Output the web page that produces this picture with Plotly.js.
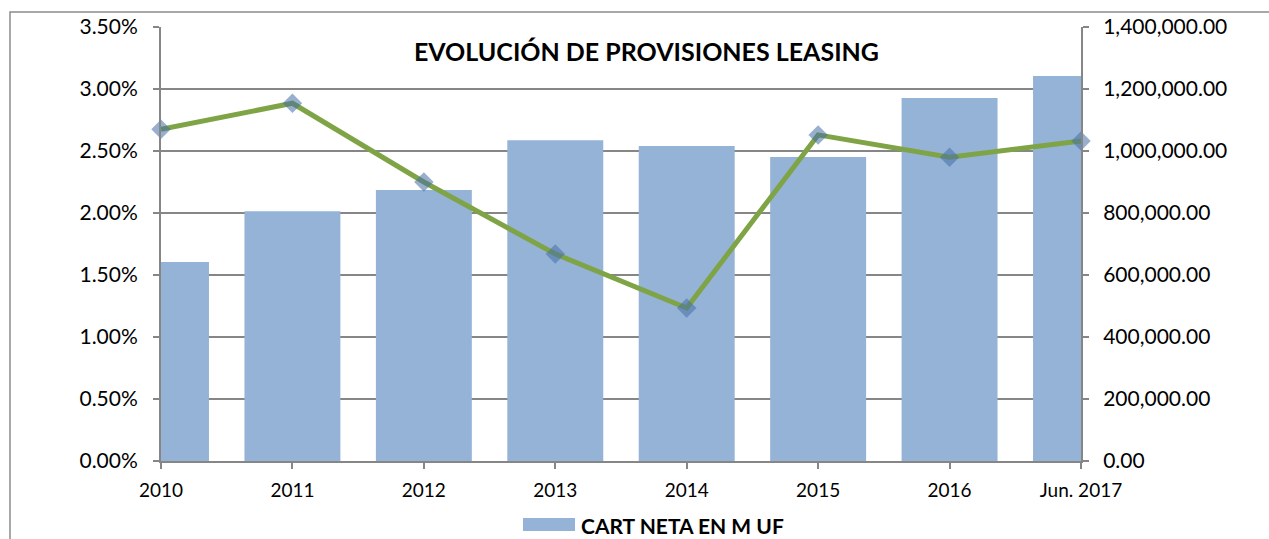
<!DOCTYPE html>
<html>
<head>
<meta charset="utf-8">
<script src="https://cdn.plot.ly/plotly-3.0.1.min.js"></script>
<style>html,body{margin:0;padding:0;background:#fff;}#chart{width:1269px;height:539px;}</style>
</head>
<body>
<div id="chart"></div>
<script>
const categories = ["2010","2011","2012","2013","2014","2015","2016","Jun. 2017"];
const cartNeta = [642000, 806000, 874000, 1035000, 1016000, 981000, 1171000, 1242000];
const provisiones = [0.02675, 0.02885, 0.0225, 0.0167, 0.01234, 0.0263, 0.0245, 0.0258];
const leftTicks = [0, 0.005, 0.01, 0.015, 0.02, 0.025, 0.03, 0.035];
const rightTicks = [0, 200000, 400000, 600000, 800000, 1000000, 1200000, 1400000];
const titleText = "EVOLUCIÓN DE PROVISIONES LEASING";
const legendText = "CART NETA EN M UF";

const gridCol = "#868686";
const L = 161, R = 1081, T = 27, B = 461;
const W = R - L, H = B - T;
const px = x => (x - L) / W;
const py = y => (B - y) / H;

const traces = [
  {
    type: "bar", x: categories, y: cartNeta, yaxis: "y", xaxis: "x",
    name: legendText, width: 0.73,
    marker: {color: "#95B3D7", line: {width: 0}},
    showlegend: false, hoverinfo: "x+y"
  },
  {
    type: "scatter", mode: "lines+markers", x: categories, y: provisiones,
    yaxis: "y2", xaxis: "x", name: "Provisiones", cliponaxis: false,
    line: {color: "#7FA445", width: 5},
    marker: {symbol: "diamond", size: 15, color: "rgba(70,110,165,0.55)", line: {width: 0}},
    showlegend: false
  }
];

const layout = {
  width: 1269, height: 539,
  margin: {l: L, r: 1269 - R, t: T, b: 539 - B, pad: 0},
  paper_bgcolor: "#fff", plot_bgcolor: "#fff",
  font: {family: "Lato, 'Open Sans', sans-serif", color: "#000"},
  showlegend: false,
  bargap: 0.27,
  title: {
    text: "<b>" + titleText + "</b>",
    font: {family: "Lato, sans-serif", size: 25, color: "#000"},
    xref: "paper", x: px(646.5), xanchor: "center",
    yref: "container", y: 1 - 52/539, yanchor: "middle"
  },
  xaxis: {
    type: "category", range: [0, 7], fixedrange: true,
    showgrid: false, zeroline: false,
    showline: true, linecolor: gridCol, linewidth: 2,
    ticks: "outside", ticklen: 6, tickcolor: gridCol, tickwidth: 2,
    tickfont: {size: 19, family: "Lato, sans-serif"},
    ticklabelstandoff: 5
  },
  yaxis: {
    side: "right", range: [0, 1400000], tickvals: rightTicks,
    tickformat: ",.2f",
    showgrid: true, gridcolor: gridCol, gridwidth: 2,
    zeroline: false, showline: true, linecolor: gridCol, linewidth: 2,
    ticks: "outside", ticklen: 6, tickcolor: gridCol, tickwidth: 2,
    tickfont: {size: 21, family: "Lato, sans-serif"},
    ticklabelstandoff: 10
  },
  yaxis2: {
    overlaying: "y", side: "left", range: [0, 0.035], tickvals: leftTicks,
    tickformat: ".2%",
    showgrid: false, zeroline: false,
    showline: true, linecolor: gridCol, linewidth: 2,
    ticks: "outside", ticklen: 6, tickcolor: gridCol, tickwidth: 2,
    tickfont: {size: 21, family: "Lato, sans-serif"},
    ticklabelstandoff: 11
  },
  shapes: [
    {type: "rect", xref: "paper", yref: "paper",
     x0: px(10), x1: px(1290), y0: py(560), y1: py(12),
     line: {color: "#8c8c8c", width: 1.5}, fillcolor: "rgba(0,0,0,0)", layer: "below"},
    {type: "rect", xref: "paper", yref: "paper",
     x0: px(523), x1: px(575), y0: py(531), y1: py(518),
     line: {width: 0}, fillcolor: "#95B3D7"}
  ],
  annotations: [
    {text: "<b>" + legendText + "</b>", xref: "paper", yref: "paper",
     x: px(579), y: py(525), xanchor: "left", yanchor: "middle", showarrow: false,
     font: {size: 21, family: "Lato, sans-serif", color: "#000"}}
  ]
};

Plotly.newPlot("chart", traces, layout, {displayModeBar: false, staticPlot: true});
</script>
</body>
</html>
